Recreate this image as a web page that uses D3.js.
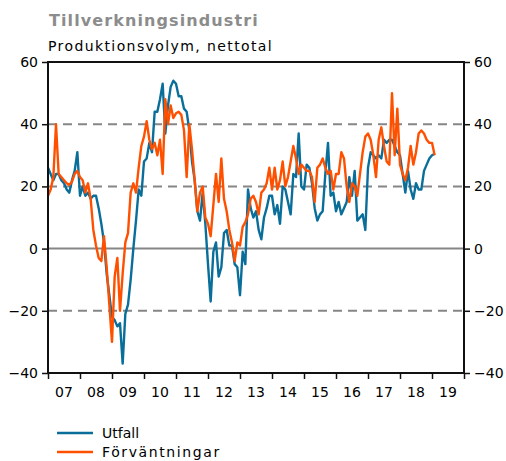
<!DOCTYPE html>
<html>
<head>
<meta charset="utf-8">
<script src="https://cdn.jsdelivr.net/npm/d3@7"></script>
<style>
  body { margin: 0; background: #fff; }
  svg text { font-family: "DejaVu Sans", Verdana, sans-serif; }
</style>
</head>
<body>
<div id="chart"></div>
<script>
// monthly values, Jan 2007 .. Feb 2019
var utfall = [
  26, 24, 22, 24, 24, 22, 21, 19, 18, 22, 25, 31,
  17, 20, 17, 18, 16, 17, 17, 13, 8, 2, -8, -15,
  -22, -23, -25, -24, -37, -21, -18, -10, 0, 9, 19, 17,
  28, 29, 34, 31, 44, 44, 48, 53, 37, 46, 52, 54,
  53, 49, 49, 45, 44, 38, 28, 22, 12, 9, 18, 8,
  -5, -17, -1, 2, -9, -6, 5, 6, 1, 1, -5, -6,
  -15, -1, -5, 19, 13, 10, 12, 6, 3, 10, 13, 17,
  17, 11, 14, 8, 20, 19, 15, 11, 24, 23, 37, 20,
  19, 27, 26, 21, 13, 9, 11, 12, 24, 34, 17, 18,
  12, 15, 11, 13, 15, 23, 17, 25, 9, 10, 11, 6,
  26, 31, 30, 29, 30, 29, 35, 34, 35, 35, 33, 31,
  30, 24, 18, 25, 19, 16, 21, 19, 19, 25, 27, 29,
  30, 30.5
];
var forvantningar = [
  17, 19, 23, 40, 24, 23, 22, 21, 20.5, 21.5, 24, 25,
  23, 22, 18, 21, 16, 6, 1, -3, -4, 4, -6, -18,
  -30, -9, -3, -20, -8, 2, 5, 18, 21, 18, 26, 33,
  36, 41, 35, 32, 34, 30, 35, 24, 48, 40, 46, 42,
  43.5, 44, 43, 38, 23, 40, 32, 22, 12, 18, 20, 10,
  8, 4, 14, 24, 15, 29, 16, 12, 6, 2, -4, 2,
  1, 7, 8.5, 11, 16, 17, 15, 11, 18, 19, 21, 26,
  19, 26, 19, 22, 28, 20, 23, 28, 33, 29, 24, 27,
  26, 25, 25, 23, 15, 26, 27, 29, 26, 24, 25, 19,
  24, 24, 31, 29, 20, 15, 21, 20, 17, 24, 31, 36,
  37, 35, 30, 23, 35, 39, 33, 28, 27, 50, 30, 45,
  27, 24, 22, 26, 33, 27, 31, 37, 38, 37, 35, 34,
  34, 30
];
var yearLabels = ['07', '08', '09', '10', '11', '12', '13', '14', '15', '16', '17', '18', '19'];
var yTicks = [-40, -20, 0, 20, 40, 60];
var gridValues = [-20, 20, 40];

var W = 506, H = 461;
var plot = {left: 48, right: 464, top: 62, bottom: 373};

var svg = d3.select('#chart').append('svg')
  .attr('width', W)
  .attr('height', H);

var x = d3.scaleLinear().domain([0, 156]).range([plot.left, plot.right]);
var y = d3.scaleLinear().domain([-40, 60]).range([plot.bottom, plot.top]);

// titles
svg.append('text')
  .attr('x', 49).attr('y', 26)
  .attr('font-size', 16).attr('font-weight', 'bold')
  .attr('letter-spacing', 1.1)
  .attr('fill', '#8c8c8c')
  .text('Tillverkningsindustri');
svg.append('text')
  .attr('x', 48).attr('y', 51)
  .attr('font-size', 14)
  .attr('letter-spacing', 1.4)
  .attr('fill', '#000')
  .text('Produktionsvolym, nettotal');

// grid
svg.selectAll('line.grid').data(gridValues).enter().append('line')
  .attr('class', 'grid')
  .attr('x1', plot.left).attr('x2', plot.right)
  .attr('y1', function(d) { return y(d); })
  .attr('y2', function(d) { return y(d); })
  .attr('stroke', '#868686')
  .attr('stroke-width', 2)
  .attr('stroke-dasharray', '9,6');
svg.append('line')
  .attr('x1', plot.left).attr('x2', plot.right)
  .attr('y1', y(0)).attr('y2', y(0))
  .attr('stroke', '#868686')
  .attr('stroke-width', 2);

// series
var line = d3.line()
  .x(function(d, i) { return x(i); })
  .y(function(d) { return y(d); });
svg.append('path')
  .datum(utfall)
  .attr('fill', 'none')
  .attr('stroke', '#0a6e9a')
  .attr('stroke-width', 2.4)
  .attr('stroke-linejoin', 'round')
  .attr('d', line);
svg.append('path')
  .datum(forvantningar)
  .attr('fill', 'none')
  .attr('stroke', '#ff5000')
  .attr('stroke-width', 2.4)
  .attr('stroke-linejoin', 'round')
  .attr('d', line);

// frame
svg.append('rect')
  .attr('x', plot.left).attr('y', plot.top)
  .attr('width', plot.right - plot.left).attr('height', plot.bottom - plot.top)
  .attr('fill', 'none')
  .attr('stroke', '#111')
  .attr('stroke-width', 2);

// y axes
var yAxisL = d3.axisLeft(y).tickValues(yTicks).tickSize(6).tickPadding(4);
var yAxisR = d3.axisRight(y).tickValues(yTicks).tickSize(6).tickPadding(4);
var gL = svg.append('g').attr('transform', 'translate(' + plot.left + ',0)').call(yAxisL);
var gR = svg.append('g').attr('transform', 'translate(' + plot.right + ',0)').call(yAxisR);
[gL, gR].forEach(function(g) {
  g.select('.domain').remove();
  g.selectAll('line').attr('stroke', '#111').attr('stroke-width', 1.5);
  g.selectAll('text')
    .attr('font-size', 14)
    .attr('fill', '#000')
    .style('font-family', '"DejaVu Sans", Verdana, sans-serif');
});

// x axis: year boundaries as ticks, labels centred in each year
var xAxis = d3.axisBottom(x)
  .tickValues(d3.range(0, 157, 12))
  .tickSize(6)
  .tickFormat('');
var gX = svg.append('g').attr('transform', 'translate(0,' + plot.bottom + ')').call(xAxis);
gX.select('.domain').remove();
gX.selectAll('line').attr('stroke', '#111').attr('stroke-width', 1.5);
svg.selectAll('text.year').data(yearLabels).enter().append('text')
  .attr('class', 'year')
  .attr('x', function(d, i) { return x(i * 12 + 6); })
  .attr('y', 397)
  .attr('text-anchor', 'middle')
  .attr('font-size', 14)
  .text(function(d) { return d; });

// legend
var legend = [
  {name: 'Utfall', color: '#0a6e9a', spacing: 0},
  {name: 'Förväntningar', color: '#ff5000', spacing: 1.6}
];
var lg = svg.selectAll('g.legend').data(legend).enter().append('g')
  .attr('class', 'legend')
  .attr('transform', function(d, i) { return 'translate(57,' + (433 + i * 19) + ')'; });
lg.append('line')
  .attr('x1', 0).attr('x2', 36)
  .attr('stroke', function(d) { return d.color; })
  .attr('stroke-width', 2.4);
lg.append('text')
  .attr('x', 45).attr('y', 5)
  .attr('font-size', 14)
  .attr('letter-spacing', function(d) { return d.spacing; })
  .text(function(d) { return d.name; });
</script>
</body>
</html>
